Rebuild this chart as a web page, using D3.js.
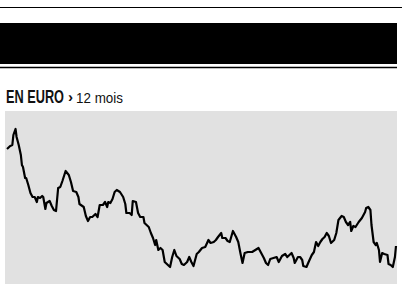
<!DOCTYPE html>
<html>
<head>
<meta charset="utf-8">
<script src="https://cdn.jsdelivr.net/npm/d3@7"></script>
<style>
	body { margin: 0; background: #fff; }
	svg { display: block; }
</style>
</head>
<body>
<svg id="chart_euro"></svg>
<script>
// jours (sur 12 mois) et cours
var days = [0, 3, 5, 6, 8, 9, 11, 13, 14, 15, 17, 18, 20, 22, 24, 26, 28, 29, 31, 33,
	34, 36, 37, 40, 42, 44, 46, 48, 50, 52, 55, 58, 60, 62, 65, 67, 68, 72, 74, 76,
	78, 80, 83, 85, 87, 90, 92, 94, 95, 97, 99, 101, 103, 106, 109, 111, 112, 115, 117, 118,
	121, 123, 125, 128, 129, 133, 135, 137, 139, 140, 142, 144, 146, 148, 150, 153, 155, 157, 159, 162,
	164, 166, 169, 171, 173, 175, 178, 180, 183, 186, 189, 191, 194, 196, 198, 201, 202, 205, 207, 209,
	212, 215, 217, 219, 221, 223, 226, 230, 233, 236, 238, 241, 243, 245, 247, 250, 253, 255, 258, 261,
	263, 267, 269, 270, 273, 275, 277, 278, 281, 283, 286, 288, 290, 292, 294, 296, 298, 300, 302, 304,
	307, 309, 311, 314, 316, 318, 320, 322, 323, 325, 327, 330, 333, 336, 337, 339, 341, 342, 344, 346,
	347, 349, 350, 352, 354, 357, 358, 360, 362, 364, 365];

var values = [33.5, 33.8, 33.9, 34.9, 35.5, 34.7, 33.9, 32.9, 31.9, 31.7, 30.6, 30.6, 29.9, 29.1, 28.7, 28.7, 28.2, 28.7, 28.6, 28.8,
	28.7, 27.5, 28.1, 28.3, 27.8, 27.4, 27.3, 29.6, 29.7, 30.3, 31.3, 30.9, 30.2, 29.3, 29.2, 28.7, 28.0, 27.7, 26.8, 26.3,
	26.7, 26.7, 27.0, 26.7, 27.9, 27.9, 28.2, 27.7, 28.2, 28.1, 28.5, 29.2, 29.4, 29.2, 28.7, 28.0, 27.1, 27.1, 26.9, 28.3,
	28.2, 27.1, 26.7, 26.7, 26.1, 25.7, 25.1, 24.6, 23.9, 24.4, 23.4, 23.6, 23.4, 22.2, 22.0, 21.7, 22.7, 23.4, 22.8, 22.5,
	22.0, 21.9, 22.2, 22.7, 22.2, 21.8, 23.0, 23.2, 23.6, 23.7, 24.4, 24.1, 24.2, 24.4, 24.7, 25.1, 24.6, 24.6, 24.3, 24.2,
	25.3, 24.7, 24.2, 23.1, 22.1, 23.1, 23.2, 23.2, 23.4, 23.6, 23.2, 22.6, 22.1, 21.9, 22.5, 22.6, 22.7, 22.2, 22.8, 23.0,
	22.7, 23.1, 22.6, 22.1, 22.7, 22.7, 22.4, 21.8, 21.7, 22.2, 22.9, 23.2, 24.2, 23.8, 24.2, 24.5, 24.7, 25.1, 24.8, 24.1,
	24.4, 25.1, 26.4, 26.8, 26.7, 26.2, 25.9, 26.2, 25.3, 25.8, 25.7, 26.2, 26.6, 27.2, 27.6, 27.7, 27.4, 25.9, 24.2, 23.9,
	24.1, 23.4, 22.2, 23.1, 23.0, 22.9, 22.0, 21.9, 21.7, 22.7, 23.8];

var title = "EN EURO";
var subtitle = "12 mois";

var width = 402,
	height = 284;

var plot = {left: 5, right: 397, top: 111, bottom: 284};

var svg = d3.select("#chart_euro")
	.attr("width", width)
	.attr("height", height);

// filets et bandeau du haut
svg.append("line")
	.attr("x1", 0).attr("x2", width)
	.attr("y1", 7.5).attr("y2", 7.5)
	.attr("stroke", "#000")
	.attr("stroke-width", 1.2);

svg.append("rect")
	.attr("x", 0).attr("y", 23)
	.attr("width", 397).attr("height", 41)
	.attr("fill", "#000");

svg.append("line")
	.attr("x1", 0).attr("x2", 397)
	.attr("y1", 67.5).attr("y2", 67.5)
	.attr("stroke", "#000")
	.attr("stroke-width", 1.4);

// titre : police condensee simulee en ecrasant chaque morceau en largeur
var labels = [
	{text: title, x: 6, y: 102.5, w: 58, size: 17.5, weight: "bold"},
	{text: "›", x: 68, y: 101.5, w: 5, size: 15, weight: "bold"},
	{text: subtitle, x: 76, y: 102.5, w: 47, size: 14, weight: "normal"}
];

svg.selectAll(".title-part")
	.data(labels)
	.enter().append("text")
	.attr("class", "title-part")
	.style("font-family", "'Liberation Sans', Arial, sans-serif")
	.style("font-size", function(d) { return d.size + "px"; })
	.style("font-weight", function(d) { return d.weight; })
	.attr("fill", "#111")
	.text(function(d) { return d.text; })
	.attr("transform", function(d) {
		var sx = d.w / this.getComputedTextLength();
		return "translate(" + d.x + "," + d.y + ") scale(" + sx + ",1)";
	});

// zone du graphique
svg.append("rect")
	.attr("x", plot.left)
	.attr("y", plot.top)
	.attr("width", plot.right - plot.left)
	.attr("height", plot.bottom - plot.top)
	.attr("fill", "#e1e1e1");

var x = d3.scaleLinear()
	.domain([0, 365])
	.range([7, 396]);

var y = d3.scaleLinear()
	.domain([20, 37.3])
	.range([plot.bottom, plot.top]);

var data = days.map(function(d, i) {
	return {day: d, value: values[i]};
});

var line = d3.line()
	.x(function(d) { return x(d.day); })
	.y(function(d) { return y(d.value); });

svg.append("path")
	.datum(data)
	.attr("d", line)
	.attr("fill", "none")
	.attr("stroke", "#000")
	.attr("stroke-width", 2.2)
	.attr("stroke-linejoin", "round");
</script>
</body>
</html>
